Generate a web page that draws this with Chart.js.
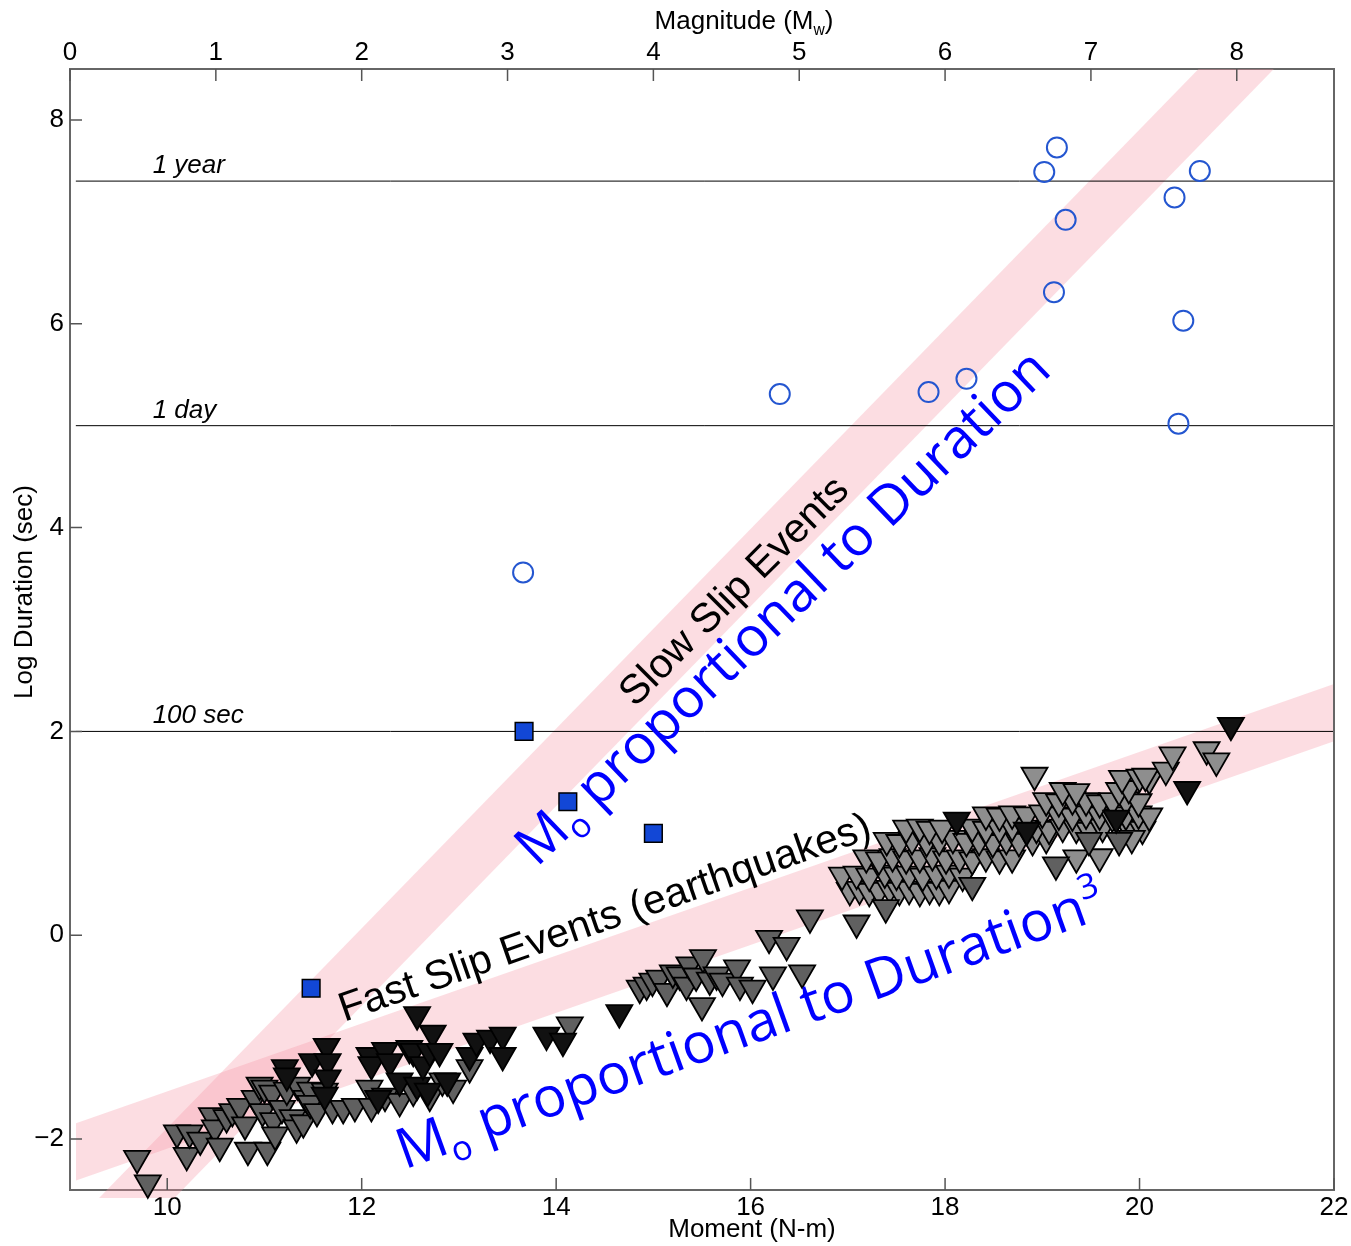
<!DOCTYPE html>
<html>
<head>
<meta charset="utf-8">
<script src="https://cdn.jsdelivr.net/npm/chart.js@4.4.1/dist/chart.umd.min.js"></script>
<style>
  html, body { margin: 0; padding: 0; background: #fff; }
  #wrap { width: 1351px; height: 1246px; position: relative; }
</style>
</head>
<body>
<div id="wrap"><canvas id="chart"></canvas></div>
<script>
// ─── axis ticks ───
const momentTicks = [10, 12, 14, 16, 18, 20, 22];
const magnitudeTicks = [0, 1, 2, 3, 4, 5, 6, 7, 8];
const durationTicks = [-2, 0, 2, 4, 6, 8];

// ─── reference durations ───
const refLineValues = [7.4, 5.0, 2.0];
const refLineLabels = ['1 year', '1 day', '100 sec'];

// ─── scaling bands (end points, log moment / log duration) ───
const slowBand = [[9.45, -2.81], [21.3, 8.8]];
const fastBand = [[8.9, -2.18], [22.2, 2.25]];

// ─── slow slip events ───
const slowCircles = [
  [13.66, 3.56], [16.30, 5.31], [17.83, 5.33], [18.22, 5.46], [19.02, 7.49], [19.15, 7.73],
  [19.24, 7.02], [19.12, 6.31], [20.36, 7.24], [20.62, 7.50], [20.45, 6.03], [20.40, 5.02]
];
const slowSquares = [[13.67, 2.00], [14.12, 1.31], [15.00, 1.00], [11.48, -0.52]];

// ─── earthquakes ───
const darkGreyTri = [
  [9.69, -2.19], [9.80, -2.43], [10.10, -1.94], [10.20, -2.16], [10.23, -1.94], [10.34, -2.01],
  [10.46, -1.77], [10.49, -1.89], [10.54, -2.07], [10.61, -1.79], [10.67, -1.73], [10.75, -1.68],
  [10.80, -1.86], [10.83, -2.11], [10.90, -1.60], [10.95, -1.47], [10.98, -1.73], [11.00, -1.50],
  [11.03, -2.11], [11.08, -1.55], [11.09, -1.82], [11.11, -1.96], [11.18, -1.70], [11.23, -1.52],
  [11.29, -1.79], [11.33, -1.89], [11.34, -1.47], [11.40, -1.84], [11.43, -1.60], [11.47, -1.52],
  [11.47, -1.65], [11.54, -1.73], [11.62, -1.53], [11.70, -1.70], [11.81, -1.70], [11.93, -1.68],
  [12.08, -1.50], [12.10, -1.68], [12.24, -1.58], [12.39, -1.63], [12.53, -1.53], [12.70, -1.58],
  [12.83, -1.43], [12.94, -1.50], [13.11, -1.30], [14.14, -0.88],
  [14.86, -0.52], [14.93, -0.49], [14.99, -0.45], [15.06, -0.42], [15.14, -0.55], [15.20, -0.37],
  [15.27, -0.39], [15.34, -0.49], [15.37, -0.29], [15.44, -0.40], [15.51, -0.22], [15.50, -0.69],
  [15.58, -0.44], [15.65, -0.39], [15.71, -0.45], [15.86, -0.32], [15.89, -0.49], [16.02, -0.52],
  [16.19, -0.03], [16.37, -0.10], [16.23, -0.39], [16.53, -0.37], [16.61, 0.17], [17.09, 0.12],
  [17.39, 0.27], [18.28, 0.49], [19.14, 0.69], [19.48, 0.93], [19.79, 0.93]
];
const lightGreyTri = [
  [17.02, 0.44], [17.12, 0.45], [17.22, 0.43], [17.32, 0.44], [17.43, 0.46], [17.53, 0.44],
  [17.63, 0.45], [17.74, 0.43], [17.84, 0.45], [17.94, 0.44], [18.04, 0.46],
  [16.94, 0.59], [17.09, 0.60], [17.22, 0.58], [17.38, 0.61], [17.50, 0.59], [17.63, 0.60],
  [17.77, 0.58], [17.91, 0.60], [18.04, 0.61], [18.18, 0.58],
  [17.19, 0.76], [17.32, 0.74], [17.46, 0.77], [17.60, 0.75], [17.74, 0.76], [17.87, 0.78],
  [18.01, 0.75], [18.15, 0.76], [18.28, 0.74], [18.42, 0.77], [18.56, 0.75], [18.69, 0.76],
  [17.40, 0.93], [17.53, 0.91], [17.66, 0.94], [17.81, 0.92], [17.94, 0.93], [18.08, 0.95],
  [18.22, 0.92], [18.35, 0.93], [18.49, 0.91], [18.63, 0.94], [18.76, 0.92], [18.90, 0.93], [19.04, 0.95],
  [17.60, 1.05], [17.74, 1.06], [17.84, 1.04], [17.97, 1.05], [18.28, 1.06], [18.42, 1.04],
  [18.56, 1.05], [18.69, 1.07], [18.94, 1.05], [19.07, 1.04], [19.21, 1.06], [19.35, 1.05],
  [19.48, 1.03], [19.62, 1.06], [19.89, 1.05], [20.03, 1.04],
  [18.42, 1.18], [18.56, 1.17], [18.69, 1.19], [18.84, 1.18], [19.00, 1.20], [19.17, 1.18],
  [19.31, 1.17], [19.45, 1.19], [19.59, 1.18], [19.72, 1.16], [19.86, 1.18], [19.99, 1.19], [20.10, 1.17],
  [19.04, 1.32], [19.17, 1.31], [19.31, 1.33], [19.45, 1.32], [19.59, 1.30], [19.72, 1.32],
  [19.86, 1.33], [19.99, 1.31],
  [19.21, 1.42], [19.35, 1.41], [19.79, 1.42], [19.89, 1.44],
  [19.82, 1.54], [20.00, 1.55], [20.10, 1.53],
  [19.35, 0.76], [19.59, 0.77], [19.92, 0.95],
  [18.92, 1.57], [20.06, 1.56], [20.27, 1.62], [20.34, 1.77], [20.69, 1.82], [20.79, 1.71]
];
const blackTri = [
  [11.21, -1.30], [11.23, -1.38], [11.49, -1.24], [11.64, -1.09], [11.65, -1.24], [11.65, -1.40],
  [11.62, -1.57], [12.08, -1.18], [12.10, -1.27], [12.17, -1.60], [12.24, -1.13], [12.29, -1.24],
  [12.39, -1.43], [12.49, -1.11], [12.53, -1.14], [12.57, -1.47], [12.63, -1.27], [12.68, -1.53],
  [12.70, -1.14], [12.73, -0.96], [12.57, -0.78], [12.80, -1.14], [12.88, -1.43], [13.11, -1.18],
  [13.18, -1.04], [13.32, -1.01], [13.45, -0.98], [13.45, -1.18], [13.90, -0.98], [14.07, -1.04],
  [14.65, -0.76],
  [18.12, 1.13], [18.84, 1.03], [19.76, 1.15], [20.49, 1.43], [20.94, 2.06]
];

const toXY = arr => arr.map(([x, y]) => ({ x, y }));
const SANS = "'Liberation Sans', Arial, sans-serif";
const tickFont = { family: SANS, size: 26 };
const minusFmt = v => v < 0 ? '\u2212' + Math.abs(v) : String(v);

// draws a run of text pieces (sub/superscripts) along a rotated baseline
function drawRich(ctx, parts, x, y, angleDeg, size, family, color, align) {
  ctx.save();
  ctx.translate(x, y);
  ctx.rotate(angleDeg * Math.PI / 180);
  ctx.fillStyle = color;
  ctx.textAlign = 'left';
  ctx.textBaseline = 'alphabetic';
  let total = 0;
  parts.forEach(p => {
    ctx.font = `${p.style || ''} ${size * (p.scale || 1)}px ${family}`;
    total += ctx.measureText(p.t).width;
  });
  let cx = align === 'center' ? -total / 2 : 0;
  parts.forEach(p => {
    ctx.font = `${p.style || ''} ${size * (p.scale || 1)}px ${family}`;
    ctx.fillText(p.t, cx, (p.dy || 0) * size);
    cx += ctx.measureText(p.t).width;
  });
  ctx.restore();
}

const decorPlugin = {
  id: 'decor',
  afterDraw(chart) {
    const { ctx, chartArea: a, scales } = chart;
    const sx = scales.x, sy = scales.y, sm = scales.x2;
    ctx.save();

    // right frame
    ctx.strokeStyle = '#666';
    ctx.lineWidth = 2;
    ctx.beginPath();
    ctx.moveTo(a.right, a.top - 1);
    ctx.lineTo(a.right, a.bottom + 1);
    ctx.stroke();

    // inward ticks
    const TL = 12;
    ctx.strokeStyle = '#555';
    ctx.lineWidth = 1.5;
    ctx.beginPath();
    momentTicks.forEach(v => { const p = sx.getPixelForValue(v); ctx.moveTo(p, a.bottom); ctx.lineTo(p, a.bottom - TL); });
    magnitudeTicks.forEach(v => { const p = sm.getPixelForValue(v); ctx.moveTo(p, a.top); ctx.lineTo(p, a.top + TL); });
    durationTicks.forEach(v => { const p = sy.getPixelForValue(v); ctx.moveTo(a.left, p); ctx.lineTo(a.left + TL, p); });
    ctx.stroke();

    // reference line labels
    ctx.fillStyle = '#000';
    ctx.font = `italic 26px ${SANS}`;
    ctx.textAlign = 'left';
    ctx.textBaseline = 'alphabetic';
    refLineValues.forEach((v, i) => {
      ctx.fillText(refLineLabels[i], sx.getPixelForValue(9.85), sy.getPixelForValue(v) - 8);
    });

    // axis titles
    ctx.font = `26px ${SANS}`;
    ctx.textAlign = 'center';
    ctx.textBaseline = 'middle';
    ctx.fillText('Moment (N-m)', (a.left + a.right) / 2 + 50, 1230);
    ctx.save();
    ctx.translate(25, 592);
    ctx.rotate(-Math.PI / 2);
    ctx.fillText('Log Duration (sec)', 0, 0);
    ctx.restore();
    drawRich(ctx, [
      { t: 'Magnitude (M' }, { t: 'w', scale: 0.6, dy: 0.22 }, { t: ')' }
    ], (a.left + a.right) / 2 + 42, 29, 0, 26, SANS, '#000', 'center');

    // band annotations
    const P = (x, y) => [sx.getPixelForValue(x), sy.getPixelForValue(y)];
    let [px, py] = P(14.81, 2.23);
    drawRich(ctx, [{ t: 'Slow Slip Events' }], px, py, -45, 41, SANS, '#000');
    [px, py] = P(11.82, -0.85);
    drawRich(ctx, [{ t: 'Fast Slip Events (earthquakes)' }], px, py, -19.2, 41, SANS, '#000');

    const BLUE_FONT = "'Open Sans', 'Noto Sans', sans-serif";
    [px, py] = P(13.80, 0.66);
    drawRich(ctx, [
      { t: 'M' }, { t: 'o', scale: 0.62, dy: 0.2 }, { t: ' proportional to Duration' }
    ], px, py, -43.8, 55, BLUE_FONT, '#0000ff');
    [px, py] = P(12.44, -2.30);
    drawRich(ctx, [
      { t: 'M' }, { t: 'o', scale: 0.62, dy: 0.2 }, { t: ' proportional to Duration' },
      { t: '3', scale: 0.62, dy: -0.42 }
    ], px, py, -19.8, 56, BLUE_FONT, '#0000ff');

    ctx.restore();
  }
};

const triStyle = (fill, order) => ({
  pointStyle: 'triangle', rotation: 180, radius: 15, pointRadius: 15,
  backgroundColor: fill, borderColor: '#000', borderWidth: 1.8,
  showLine: false, clip: false, order
});

new Chart(document.getElementById('chart'), {
  type: 'scatter',
  data: {
    datasets: [
      {
        type: 'line', label: 'slow band', data: toXY(slowBand),
        borderColor: 'rgba(245,150,165,0.32)', borderWidth: 54, borderCapStyle: 'butt',
        pointRadius: 0, fill: false, order: 10,
        clip: { left: 0, right: 0, top: 0, bottom: 8 }
      },
      {
        type: 'line', label: 'fast band', data: toXY(fastBand),
        borderColor: 'rgba(245,150,165,0.32)', borderWidth: 54, borderCapStyle: 'butt',
        pointRadius: 0, fill: false, order: 10,
        clip: { left: -6, right: 0, top: 0, bottom: 0 }
      },
      ...refLineValues.map(v => ({
        type: 'line', label: 'ref', data: [{ x: 9.06, y: v }, { x: 22, y: v }],
        borderColor: '#000', borderWidth: 1, pointRadius: 0, fill: false, order: 8, clip: 0
      })),
      { label: 'quakes grey', data: toXY(lightGreyTri), ...triStyle('#8e8e8e', 6) },
      { label: 'quakes dark', data: toXY(darkGreyTri), ...triStyle('#606060', 5) },
      { label: 'quakes black', data: toXY(blackTri), ...triStyle('#111111', 4) },
      {
        label: 'slow squares', data: toXY(slowSquares),
        pointStyle: 'rect', pointRadius: 12.5, backgroundColor: '#1247d6',
        borderColor: '#000', borderWidth: 1.5, clip: false, order: 2
      },
      {
        label: 'slow circles', data: toXY(slowCircles),
        pointStyle: 'circle', pointRadius: 10, backgroundColor: 'rgba(0,0,0,0)',
        borderColor: '#2456d0', borderWidth: 2, clip: false, order: 1
      }
    ]
  },
  options: {
    responsive: true,
    maintainAspectRatio: false,
    animation: false,
    events: [],
    layout: { padding: { left: 0, right: 17, top: 0, bottom: 0 } },
    plugins: { legend: { display: false }, tooltip: { enabled: false } },
    scales: {
      x: {
        type: 'linear', position: 'bottom', min: 9, max: 22,
        afterBuildTicks: s => { s.ticks = momentTicks.map(v => ({ value: v })); },
        afterFit: s => { s.height = 56; },
        grid: { display: false, drawTicks: false },
        border: { display: true, color: '#666', width: 2 },
        ticks: { color: '#000', font: tickFont, padding: 2, maxRotation: 0, autoSkip: false, callback: minusFmt }
      },
      x2: {
        type: 'linear', position: 'top', min: 0, max: 26 / 3,
        afterBuildTicks: s => { s.ticks = magnitudeTicks.map(v => ({ value: v })); },
        afterFit: s => { s.height = 69; },
        grid: { display: false, drawTicks: false },
        border: { display: true, color: '#666', width: 2 },
        ticks: { color: '#000', font: tickFont, padding: 1, maxRotation: 0, autoSkip: false, callback: minusFmt }
      },
      y: {
        type: 'linear', position: 'left', min: -2.5, max: 8.5,
        afterBuildTicks: s => { s.ticks = durationTicks.map(v => ({ value: v })); },
        afterFit: s => { s.width = 70; },
        grid: { display: false, drawTicks: false },
        border: { display: true, color: '#666', width: 2 },
        ticks: { color: '#000', font: tickFont, padding: 6, autoSkip: false, callback: minusFmt }
      }
    }
  },
  plugins: [decorPlugin]
});
</script>
</body>
</html>
